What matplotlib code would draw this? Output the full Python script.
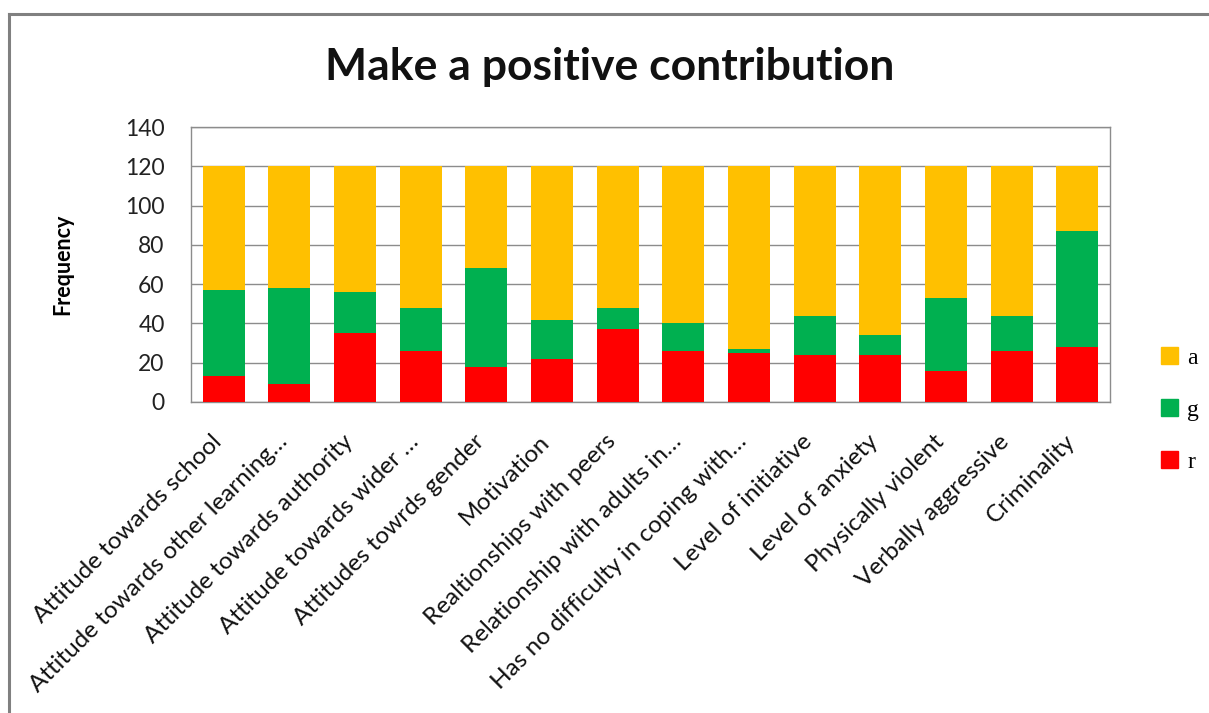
import matplotlib
matplotlib.use("Agg")
import matplotlib.pyplot as plt
from matplotlib.patches import Rectangle
from matplotlib.lines import Line2D

categories = [
    "Attitude towards school",
    "Attitude towards other learning…",
    "Attitude towards authority",
    "Attitude towards wider …",
    "Attitudes towrds gender",
    "Motivation",
    "Realtionships with peers",
    "Relationship with adults in…",
    "Has no difficulty in coping with…",
    "Level of initiative",
    "Level of anxiety",
    "Physically violent",
    "Verbally aggressive",
    "Criminality",
]
r_vals = [13, 9, 35, 26, 18, 22, 37, 26, 25, 24, 24, 16, 26, 28]
g_vals = [44, 49, 21, 22, 50, 20, 11, 14, 2, 20, 10, 37, 18, 59]
a_vals = [63, 62, 64, 72, 52, 78, 72, 80, 93, 76, 86, 67, 76, 33]
y_ticks = [0, 20, 40, 60, 80, 100, 120, 140]

RED = "#FF0000"
GREEN = "#00B050"
AMBER = "#FFC000"
GRID = "#8C8C8C"

W, H = 1209, 713
fig = plt.figure(figsize=(W / 100, H / 100), dpi=100)
fig.patch.set_facecolor("white")

# outer frame lines (left and top)
fig.add_artist(Line2D([9 / W, 9 / W], [0, 1 - 14 / H], transform=fig.transFigure,
                      color="#808080", lw=2.2))
fig.add_artist(Line2D([9 / W, 1], [1 - 14 / H, 1 - 14 / H], transform=fig.transFigure,
                      color="#808080", lw=2.2))

left, right, top, bottom = 191, 1110, 127, 402
ax = fig.add_axes([left / W, 1 - bottom / H, (right - left) / W, (bottom - top) / H])

x = list(range(len(categories)))
bw = 0.64
ax.bar(x, r_vals, width=bw, color=RED, zorder=3, label="r")
ax.bar(x, g_vals, width=bw, bottom=r_vals, color=GREEN, zorder=3, label="g")
bottom_a = [r + g for r, g in zip(r_vals, g_vals)]
ax.bar(x, a_vals, width=bw, bottom=bottom_a, color=AMBER, zorder=3, label="a")

ax.set_xlim(-0.5, len(categories) - 0.5)
ax.set_ylim(0, 140)
ax.set_yticks(y_ticks)
ax.yaxis.grid(True, color=GRID, lw=1.0, zorder=0)
ax.tick_params(axis="y", length=0, labelsize=16.5, pad=19, colors="#222222")
ax.tick_params(axis="x", length=0)
for lab in ax.get_yticklabels():
    lab.set_fontfamily("Lato")
for s in ax.spines.values():
    s.set_color(GRID)
    s.set_linewidth(1.0)

ax.set_xticks(x)
ax.set_xticklabels([])
for xi, name in zip(x, categories):
    ax.annotate(name, xy=(xi, 0), xycoords=("data", "axes fraction"),
                xytext=(-4, -26), textcoords="offset points",
                rotation=45, rotation_mode="anchor", ha="right", va="center",
                fontsize=17.5, fontfamily="Lato", color="#111111")

ax.set_ylabel("Frequency", fontsize=15.5, fontweight="bold", fontfamily="Lato", labelpad=37)

fig.text(610 / W, 1 - 67 / H, "Make a positive contribution", ha="center", va="center",
         fontsize=32, fontweight="bold", fontfamily="Lato", color="#111111")

# legend
handles = [Rectangle((0, 0), 1, 1, color=AMBER),
           Rectangle((0, 0), 1, 1, color=GREEN),
           Rectangle((0, 0), 1, 1, color=RED)]
leg = fig.legend(handles, ["a", "g", "r"], loc="center left",
                 bbox_to_anchor=(1140 / W, 1 - 410 / H), frameon=False,
                 prop={"family": "Liberation Serif", "size": 17},
                 handlelength=0.7, handleheight=0.7, handletextpad=0.4,
                 labelspacing=1.3)

fig.savefig("out.png", dpi=100, facecolor="white")
